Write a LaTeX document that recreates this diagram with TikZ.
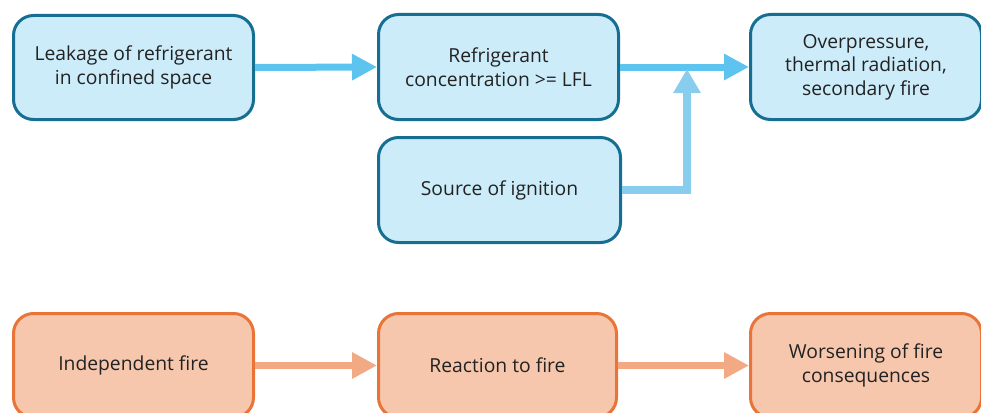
\documentclass[tikz,border=0pt]{standalone}
\usepackage{fontspec}
\setmainfont{Open Sans}
\usetikzlibrary{arrows.meta}
\definecolor{bborder}{RGB}{22,110,146}
\definecolor{bfill}{RGB}{204,236,250}
\definecolor{barrow}{RGB}{92,196,239}
\definecolor{barrowlt}{RGB}{137,205,238}
\definecolor{oborder}{RGB}{233,116,56}
\definecolor{ofill}{RGB}{246,199,173}
\definecolor{oarrow}{RGB}{241,170,131}
\definecolor{txt}{RGB}{34,34,34}
\tikzset{
  box/.style={rounded corners=20pt, line width=3pt, inner sep=0pt, align=center,
    text=txt, font=\fontsize{19.3}{23.5}\selectfont, anchor=north west},
  bluebox/.style={box, draw=bborder, fill=bfill},
  orangebox/.style={box, draw=oborder, fill=ofill},
  flow/.style={line width=7pt, -{Triangle[length=25pt,width=25pt]}},
}
\begin{document}
\begin{tikzpicture}[x=1pt,y=-1pt]
\useasboundingbox (0,0) rectangle (981,412);
\clip (0,0) rectangle (981,412);
% top row
\node[bluebox, minimum width=240pt, minimum height=104pt] (leak) at (12,14) {Leakage of refrigerant\\in confined space};
\node[bluebox, minimum width=240pt, minimum height=105pt] (conc) at (377,13) {Refrigerant\\concentration >= LFL};
\node[bluebox, minimum width=231pt, minimum height=105pt] (over) at (749,13) {Overpressure,\\thermal radiation,\\secondary fire};
\node[bluebox, minimum width=242pt, minimum height=105pt] (ign) at (377,136) {Source of ignition};
% bottom row
\node[orangebox, minimum width=240pt, minimum height=104pt] (indep) at (12,312) {Independent fire};
\node[orangebox, minimum width=238pt, minimum height=104pt] (react) at (377,312) {Reaction to fire};
\node[orangebox, minimum width=231pt, minimum height=104pt] (worse) at (749,312) {Worsening of fire\\consequences};
% connectors
\draw[flow, barrow] (leak.east) -- (conc.west);
\draw[flow, barrow] (conc.east) -- (over.west);
\coordinate (j) at (687,69);
\draw[line width=8pt, barrowlt, -{Triangle[length=24pt,width=26pt]}] (ign.east) -| (j);
\draw[flow, oarrow] (indep.east) -- (react.west);
\draw[flow, oarrow] (react.east) -- (worse.west);
\end{tikzpicture}
\end{document}
